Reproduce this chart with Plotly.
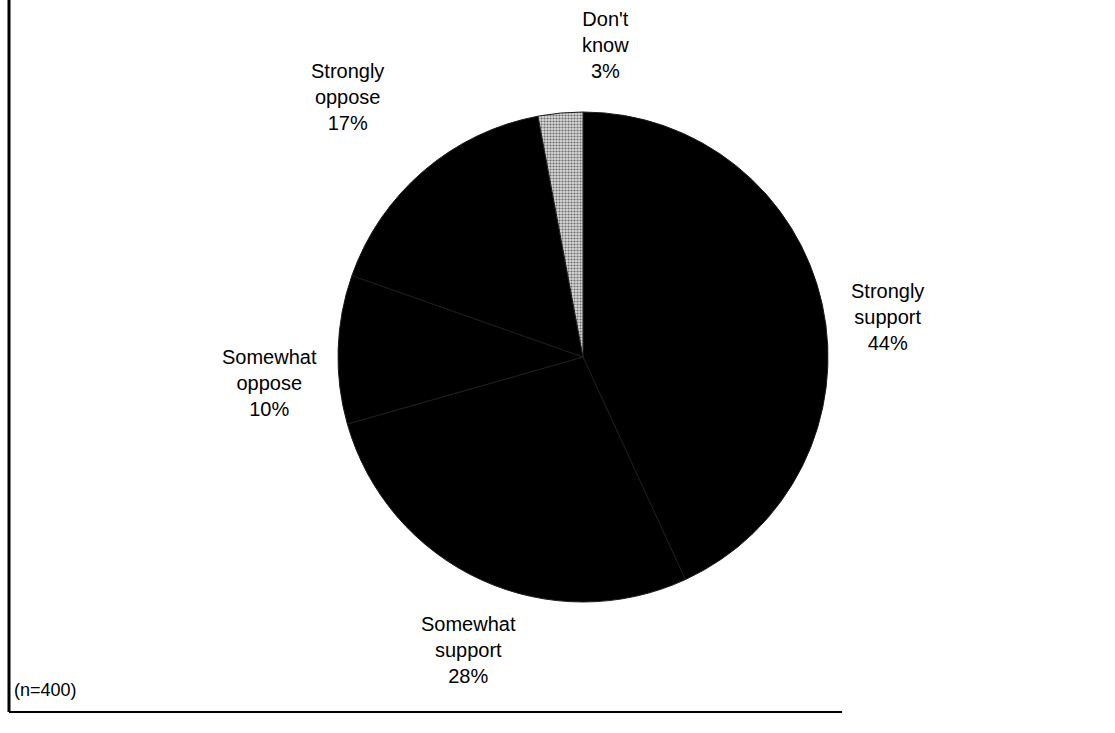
import plotly.graph_objects as go

# Survey responses (n=400), clockwise from 12 o'clock
labels = ["Strongly support", "Somewhat support", "Somewhat oppose", "Strongly oppose", "Don't know"]
label_lines = [["Strongly", "support"], ["Somewhat", "support"], ["Somewhat", "oppose"],
               ["Strongly", "oppose"], ["Don't", "know"]]
values = [44, 28, 10, 17, 3]
sample_note = "(n=400)"

slice_colors = ["#000000", "#000000", "#000000", "#000000", "#c9c9c9"]
# label anchor points (paper coords) for each slice
label_pos = [(0.796, 0.568), (0.420, 0.113), (0.242, 0.478), (0.312, 0.868), (0.543, 0.939)]

W, H = 1115, 733
cx, cy, r = 583, 357, 245

fig = go.Figure(go.Pie(
    labels=labels,
    values=values,
    sort=False,
    direction="clockwise",
    rotation=0,
    textinfo="none",
    hoverinfo="label+value",
    marker=dict(
        colors=slice_colors,
        line=dict(color="#1c1c1c", width=1),
        pattern=dict(shape=["", "", "", "", "."], fgcolor="#000000", bgcolor="#d8d8d8",
                     size=3, solidity=0.4, fillmode="overlay"),
    ),
    domain=dict(x=[(cx - r) / W, (cx + r) / W], y=[(H - cy - r) / H, (H - cy + r) / H]),
    showlegend=False,
))

annotations = []
for lines, v, (x, y) in zip(label_lines, values, label_pos):
    annotations.append(dict(
        x=x, y=y, xref="paper", yref="paper", xanchor="center", yanchor="middle",
        text="<br>".join(lines + [f"{v}%"]), showarrow=False,
        font=dict(family="Liberation Sans, Arial, sans-serif", size=20, color="#000000"),
    ))
annotations.append(dict(
    x=12 / W, y=1 - 690 / H, xref="paper", yref="paper", xanchor="left", yanchor="middle",
    text=sample_note, showarrow=False,
    font=dict(family="Liberation Sans, Arial, sans-serif", size=18, color="#000000"),
))

# frame: left and bottom rules
shapes = [
    dict(type="line", xref="paper", yref="paper", x0=9 / W, x1=9 / W, y0=1.0, y1=1 - 712 / H,
         line=dict(color="#000000", width=3)),
    dict(type="line", xref="paper", yref="paper", x0=9 / W, x1=842 / W, y0=1 - 712 / H, y1=1 - 712 / H,
         line=dict(color="#000000", width=2)),
]

fig.update_layout(
    width=W, height=H,
    margin=dict(l=0, r=0, t=0, b=0),
    paper_bgcolor="#ffffff", plot_bgcolor="#ffffff",
    annotations=annotations, shapes=shapes,
)

fig.write_html("out.html")
